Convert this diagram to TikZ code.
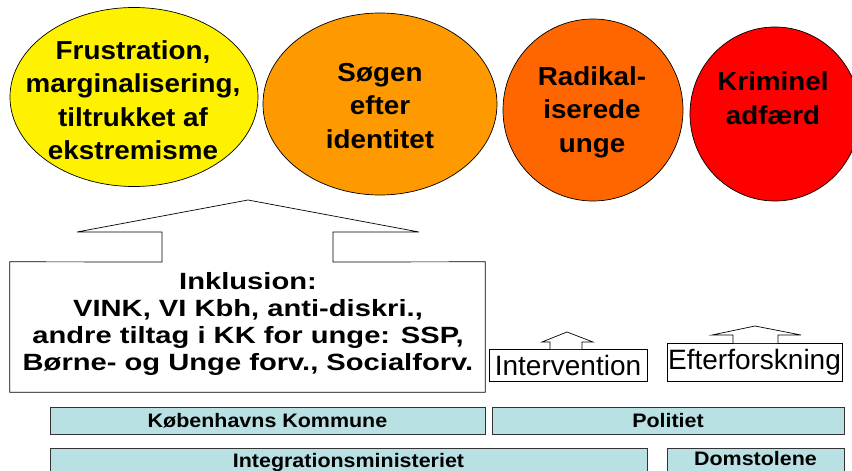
\documentclass[tikz,border=0pt]{standalone}
\usepackage{fontspec}
\setmainfont{Liberation Sans}
\newfontfamily\ellfont[FakeStretch=1.07]{Liberation Sans}
\newfontfamily\boxfont[FakeStretch=1.24]{Liberation Sans}
\newfontfamily\barfont[FakeStretch=1.1]{Liberation Sans}
\usetikzlibrary{shapes.geometric}
\definecolor{barblue}{RGB}{185,224,226}
\definecolor{orangeA}{RGB}{255,153,0}
\definecolor{orangeB}{RGB}{255,102,0}
\begin{document}
\begin{tikzpicture}[x=1pt,y=-1pt,
  ell/.style={ellipse,draw=black,line width=0.7pt,inner sep=0pt},
  etext/.style={align=center,font=\ellfont\fontsize{26}{33.5}\selectfont\bfseries,inner sep=0pt},
  btext/.style={align=center,font=\boxfont\fontsize{23.5}{27}\selectfont\bfseries,inner sep=0pt},
  smallbox/.style={draw=black,line width=0.8pt,fill=white,inner sep=0pt,font=\fontsize{28}{30}\selectfont},
  barbox/.style={draw=black!80,line width=0.8pt,fill=barblue,inner sep=0pt},
  bartext/.style={inner sep=0pt,font=\barfont\fontsize{19.5}{22}\selectfont\bfseries},
  outl/.style={draw=black,line width=0.7pt,fill=white}]
\useasboundingbox (0,0) rectangle (852,471);
\clip (0,0) rectangle (852,471);
% ellipses
\node[ell,fill=yellow,minimum width=248pt,minimum height=179pt] (e1) at (134,97) {};
\node[etext] (t1) at (133,100) {Frustration,\\marginalisering,\\tiltrukket af\\ekstremisme};
\node[ell,fill=orangeA,minimum width=234pt,minimum height=182pt] (e2) at (380,104) {};
\node[etext] (t2) at (380,106) {Søgen\\efter\\identitet};
\node[ell,fill=orangeB,minimum width=180pt,minimum height=182pt] (e3) at (593,110) {};
\node[etext] (t3) at (592,112) {Radikal-\\iserede\\unge};
\node[ell,fill=red,minimum width=170pt,minimum height=174pt] (e4) at (775,114) {};
\node[etext] (t4) at (773,98) {Kriminel\\adfærd};
% big inclusion callout
\node[minimum width=475pt,minimum height=130pt,inner sep=0pt] (incl) at (247.5,327) {};
\coordinate (tip1) at (248,200);
\draw[outl] (incl.north west) -- (162,262) -- (162,232) -- (77,232) -- (tip1) -- (419,232) -- (333,232) -- (333,262) -- (incl.north east) -- (incl.south east) -- (incl.south west) -- cycle;
\node[btext] (it) at (248,324) {Inklusion:\\VINK, VI Kbh, anti-diskri.,\\andre tiltag i KK for unge: SSP,\\Børne- og Unge forv., Socialforv.};
% intervention
\node[smallbox,minimum width=158pt,minimum height=32pt] (iv) at (568,365) {Intervention};
\coordinate (tip2) at (567,332);
\draw[outl] (550,349) -- (550,342) -- (542,342) -- (tip2) -- (593,342) -- (582,342) -- (582,349);
\node[smallbox,minimum width=175pt,minimum height=38pt] (ef) at (754.5,362) {Efterforskning};
\coordinate (tip3) at (755,326);
\draw[outl] (733,343) -- (733,335) -- (712,335) -- (tip3) -- (801,335) -- (778,335) -- (778,343);
% bars
\node[barbox,minimum width=435pt,minimum height=27pt] (kk) at (267.5,420.5) {};
\node[bartext] at (kk.center) {Københavns Kommune};
\node[barbox,minimum width=352pt,minimum height=27pt] (po) at (668,420.5) {};
\node[bartext] at (po.center) {Politiet};
\node[barbox,minimum width=597pt,minimum height=40pt,anchor=north west] (im) at (50,448) {};
\node[bartext] at (348.5,462) {Integrationsministeriet};
\node[barbox,minimum width=177pt,minimum height=40pt,anchor=north west] (ds) at (667,448) {};
\node[bartext] at (755.5,459) {Domstolene};
\end{tikzpicture}
\end{document}
